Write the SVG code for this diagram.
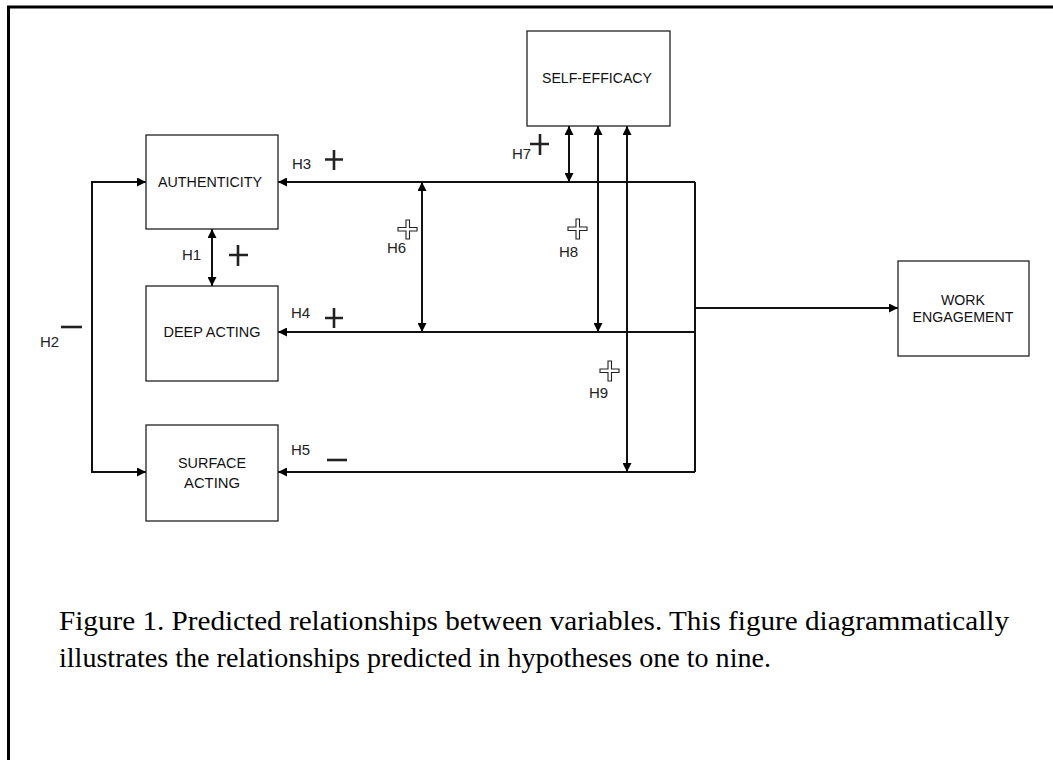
<svg xmlns="http://www.w3.org/2000/svg" width="1053" height="760" viewBox="0 0 1053 760">
<defs>
<marker id="ah" viewBox="0 0 10 10" refX="10" refY="5" markerWidth="11" markerHeight="9" markerUnits="userSpaceOnUse" orient="auto-start-reverse">
<path d="M0,0 L10,5 L0,10 Z" fill="#000"/>
</marker>
<style>
.box{fill:#fff;stroke:#222;stroke-width:1.3}
.lbl{font-family:"Liberation Sans",Arial,sans-serif;font-size:15px;fill:#111;text-anchor:middle}
.h{font-family:"Liberation Sans",Arial,sans-serif;font-size:15px;fill:#222}
.cn{fill:none;stroke:#111;stroke-width:2}
.sg{fill:none;stroke:#222;stroke-width:2.6}
.hp{fill:#fff;stroke:#222;stroke-width:1.1}
.cap{font-family:"Liberation Serif","Times New Roman",serif;font-size:27px;fill:#000}
</style>
</defs>
<rect width="1053" height="760" fill="#fff"/>
<path d="M8.5,760 V7 H1053" fill="none" stroke="#000" stroke-width="3"/>

<g id="connectors">
<path class="cn" d="M146,182 H92 V472 H146" marker-start="url(#ah)" marker-end="url(#ah)"/>
<path class="cn" d="M695,182 V472"/>
<path class="cn" d="M695,182 H278" marker-end="url(#ah)"/>
<path class="cn" d="M695,332 H278" marker-end="url(#ah)"/>
<path class="cn" d="M695,472 H278" marker-end="url(#ah)"/>
<path class="cn" d="M695,308 H898" marker-end="url(#ah)"/>
<path class="cn" d="M212,229 V286" marker-start="url(#ah)" marker-end="url(#ah)"/>
<path class="cn" d="M422,182 V332" marker-start="url(#ah)" marker-end="url(#ah)"/>
<path class="cn" d="M569,126 V182" marker-start="url(#ah)" marker-end="url(#ah)"/>
<path class="cn" d="M598,126 V332" marker-start="url(#ah)" marker-end="url(#ah)"/>
<path class="cn" d="M627,126 V472" marker-start="url(#ah)" marker-end="url(#ah)"/>
</g>

<g id="authenticity">
<rect class="box" x="146" y="135" width="132" height="94"/>
<text class="lbl" x="210" y="187" textLength="104" lengthAdjust="spacingAndGlyphs">AUTHENTICITY</text>
</g>
<g id="deep-acting">
<rect class="box" x="146" y="286" width="132" height="95"/>
<text class="lbl" x="212" y="337" textLength="97" lengthAdjust="spacingAndGlyphs">DEEP ACTING</text>
</g>
<g id="surface-acting">
<rect class="box" x="146" y="425" width="132" height="96"/>
<text class="lbl" x="212" y="468" textLength="68" lengthAdjust="spacingAndGlyphs">SURFACE</text>
<text class="lbl" x="212" y="488" textLength="56" lengthAdjust="spacingAndGlyphs">ACTING</text>
</g>
<g id="self-efficacy">
<rect class="box" x="527" y="31" width="143" height="95"/>
<text class="lbl" x="597" y="83" textLength="110" lengthAdjust="spacingAndGlyphs">SELF-EFFICACY</text>
</g>
<g id="work-engagement">
<rect class="box" x="898" y="261" width="131" height="95"/>
<text class="lbl" x="963" y="305" textLength="44" lengthAdjust="spacingAndGlyphs">WORK</text>
<text class="lbl" x="963" y="322" textLength="101" lengthAdjust="spacingAndGlyphs">ENGAGEMENT</text>
</g>

<g id="hypotheses">
<text class="h" x="182" y="260">H1</text>
<path class="sg" d="M229,255 H248 M238,245 V266"/>
<text class="h" x="40" y="347">H2</text>
<path class="sg" d="M61,327 H82"/>
<text class="h" x="292" y="169">H3</text>
<path class="sg" d="M325,159.5 H343 M334,150 V170"/>
<text class="h" x="291" y="318">H4</text>
<path class="sg" d="M325,318 H343 M334,308 V328"/>
<text class="h" x="291" y="455">H5</text>
<path class="sg" d="M327,460 H347"/>
<text class="h" x="387" y="253">H6</text>
<path class="hp" d="M406,220 H409.5 V227.5 H417 V231 H409.5 V239 H406 V231 H398 V227.5 H406 Z"/>
<text class="h" x="512" y="159">H7</text>
<path class="sg" d="M530,144 H549 M540,134 V155"/>
<text class="h" x="559" y="257">H8</text>
<path class="hp" d="M576,219 H579.5 V227 H587 V230.5 H579.5 V239 H576 V230.5 H568 V227 H576 Z"/>
<text class="h" x="589" y="398">H9</text>
<path class="hp" d="M608,361 H611.5 V369 H619 V372.5 H611.5 V381 H608 V372.5 H600 V369 H608 Z"/>
</g>

<g id="caption">
<text class="cap" x="59" y="630" textLength="950" lengthAdjust="spacingAndGlyphs">Figure 1. Predicted relationships between variables. This figure diagrammatically</text>
<text class="cap" x="59" y="667" textLength="712" lengthAdjust="spacingAndGlyphs">illustrates the relationships predicted in hypotheses one to nine.</text>
</g>
</svg>
